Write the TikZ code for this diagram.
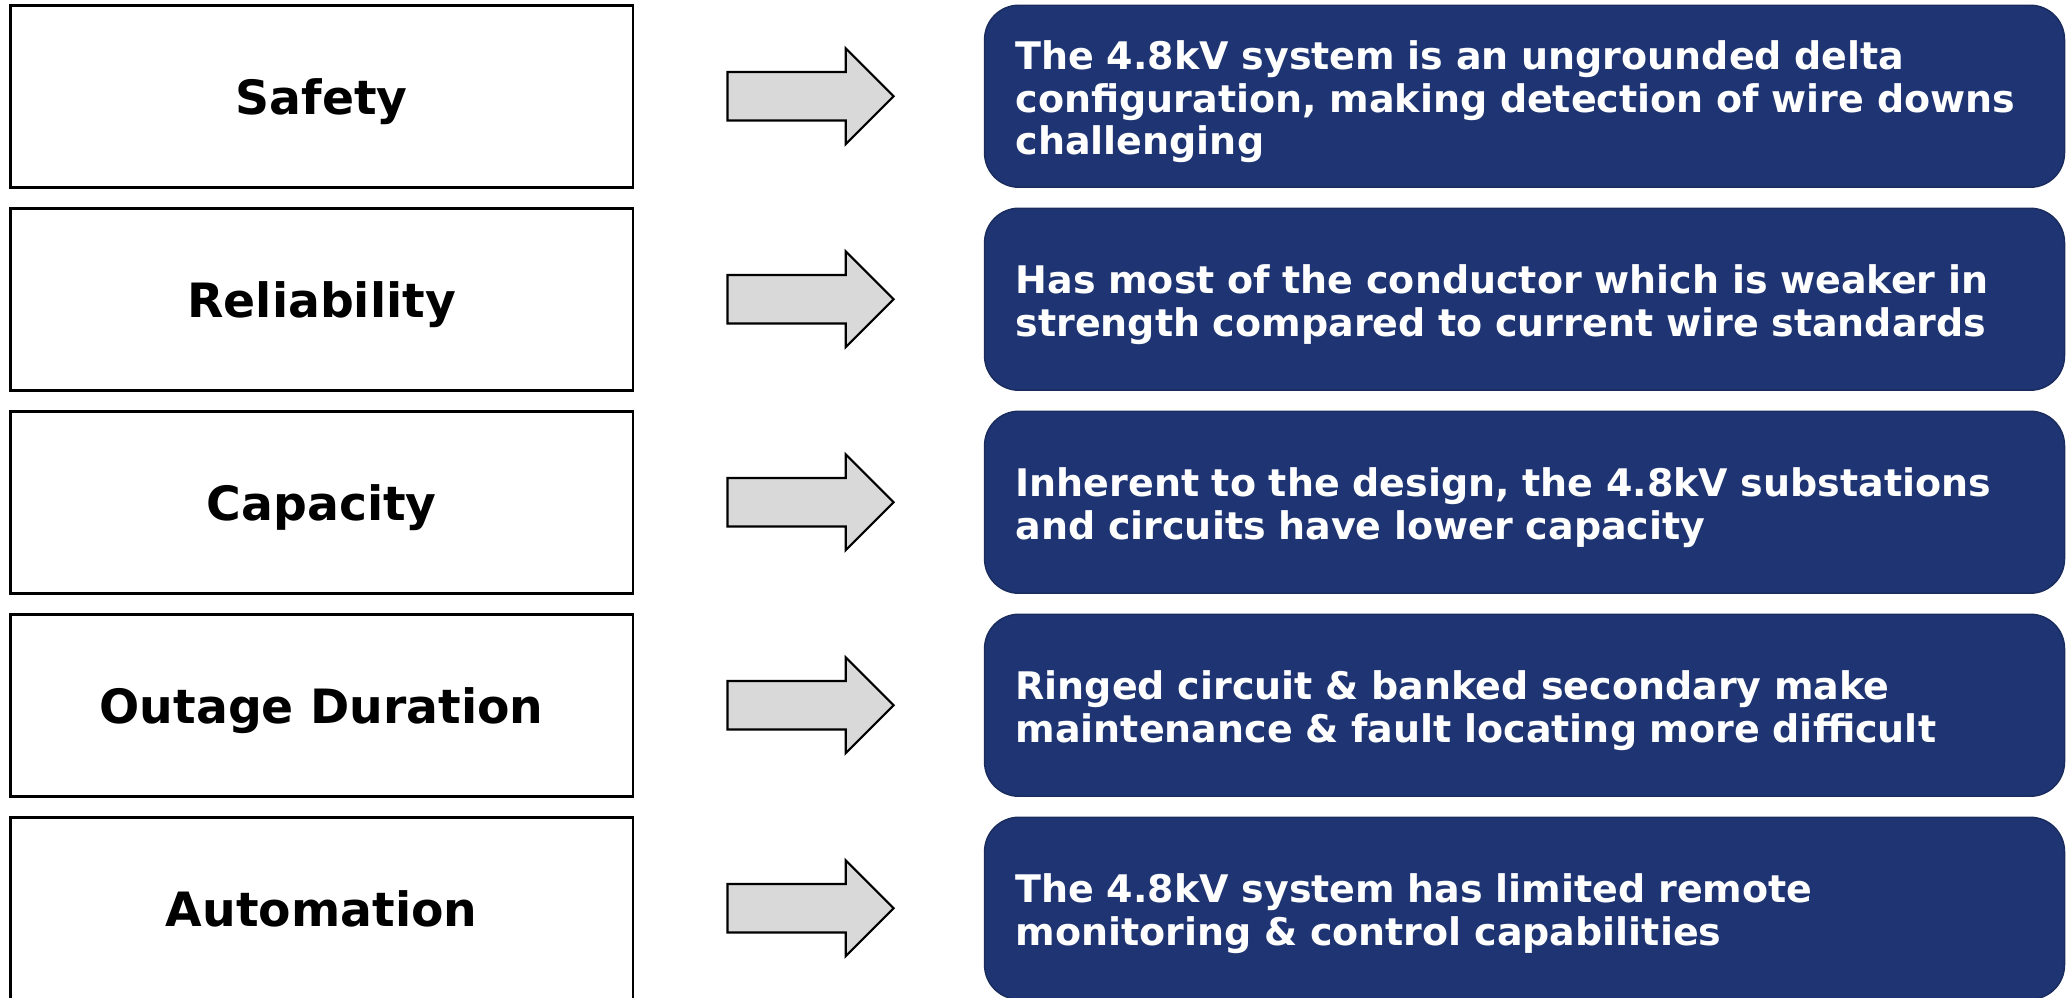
\documentclass[tikz,border=0pt]{standalone}
\usepackage{fontspec}
\setmainfont{DejaVu Sans}
\usetikzlibrary{shapes.arrows}
\definecolor{navy}{HTML}{1F3573}
\definecolor{navyline}{HTML}{1A2C5E}
\definecolor{arrowgray}{HTML}{D9D9D9}

\begin{document}
\begin{tikzpicture}
    [x=0.025cm,y=-0.025cm,
     catbox/.style={draw=black,line width=1.4pt,fill=white,minimum width=11.8cm,minimum height=3.45cm,text depth=0pt,font=\bfseries\fontsize{25.5}{30}\selectfont},
     descbox/.style={draw=navyline,line width=0.8pt,fill=navy,rounded corners=0.65cm,minimum width=20.475cm,minimum height=3.45cm,inner xsep=0.5875cm,text width=19.3cm,align=left,text=white,font=\bfseries\fontsize{20.5}{23}\selectfont,execute at begin node={\rule{0pt}{21.5pt}}},
     pointer/.style={single arrow,draw=black,line width=1.2pt,fill=arrowgray,anchor=tail,inner sep=0pt,inner ysep=0.4375cm,minimum height=3.15cm,single arrow head extend=0.45cm}]
    \useasboundingbox (0,0) rectangle (1568,757);

    \node[catbox] (c1) at (244,73) {Safety};
    \node[catbox] (c2) at (244,227) {Reliability};
    \node[catbox] (c3) at (244,381) {Capacity};
    \node[catbox] (c4) at (244,535) {Outage Duration};
    \node[catbox] (c5) at (244,689) {Automation};

    \node[pointer] (a1) at (551,73) {};
    \node[pointer] (a2) at (551,227) {};
    \node[pointer] (a3) at (551,381) {};
    \node[pointer] (a4) at (551,535) {};
    \node[pointer] (a5) at (551,689) {};

    \node[descbox] (d1) at (1156.5,73) {The 4.8kV system is an ungrounded delta\\configuration, making detection of wire downs\\challenging};
    \node[descbox] (d2) at (1156.5,227) {Has most of the conductor which is weaker in\\strength compared to current wire standards};
    \node[descbox] (d3) at (1156.5,381) {Inherent to the design, the 4.8kV substations\\and circuits have lower capacity};
    \node[descbox] (d4) at (1156.5,535) {Ringed circuit \& banked secondary make\\maintenance \& fault locating more difficult};
    \node[descbox] (d5) at (1156.5,689) {The 4.8kV system has limited remote\\monitoring \& control capabilities};
\end{tikzpicture}
\end{document}
